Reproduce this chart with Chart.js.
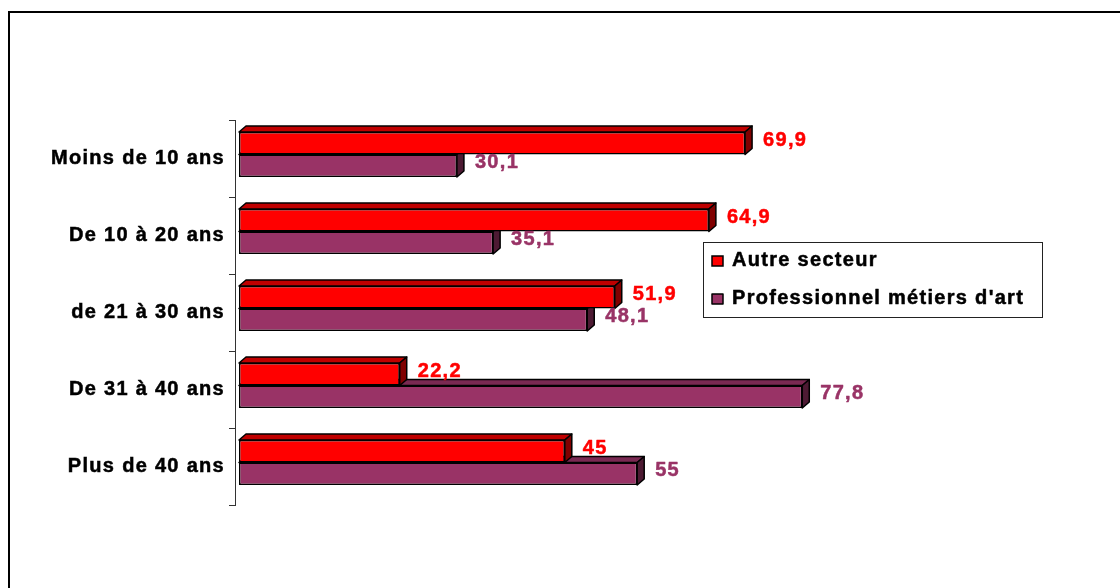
<!DOCTYPE html>
<html>
<head>
<meta charset="utf-8">
<script src="https://cdn.jsdelivr.net/npm/chart.js@4.4.1/dist/chart.umd.min.js"></script>
<style>
html, body { margin: 0; padding: 0; background: #fff; }
#wrap { width: 1120px; height: 588px; }
</style>
</head>
<body>
<div id="wrap"><canvas id="ancienneteChart" width="1120" height="588"></canvas></div>
<script>
// Data
const categories = ['Moins de 10 ans', 'De 10 à 20 ans', 'de 21 à 30 ans', 'De 31 à 40 ans', 'Plus de 40 ans'];
const autreSecteur = [69.9, 64.9, 51.9, 22.2, 45];
const metiersArt = [30.1, 35.1, 48.1, 77.8, 55];
const seriesNames = ['Autre secteur', "Professionnel métiers d'art"];
const axisMax = 100;

const FONT = '"Liberation Sans", Arial, sans-serif';
const FONT_SIZE = 20;
const TEXT_STROKE = 0.5;           // makes the bold look heavier, like the Excel render
const DEPTH_X = 7, DEPTH_Y = -6;   // 3D depth of bars
const SHIFT_X = 4, SHIFT_Y = -4;   // front face offset from the axis floor

const frontColors = ['#ff0000', '#993366'];
const topColors = ['#c00000', '#7a2952'];
const sideColors = ['#800000', '#4d1a33'];
const labelColors = ['#ff0000', '#993366'];

function heavyText(ctx, txt, x, y, color) {
    ctx.fillStyle = color;
    ctx.strokeStyle = color;
    ctx.lineWidth = TEXT_STROKE;
    ctx.lineJoin = 'round';
    ctx.strokeText(txt, x, y);
    ctx.fillText(txt, x, y);
}

// draws the frame, the 3D faces, the value labels and the legend box
const excelLook = {
    id: 'excelLook',
    beforeDraw(chart) {
        const ctx = chart.ctx;
        ctx.letterSpacing = '1.3px';
        ctx.save();
        ctx.strokeStyle = '#000';
        ctx.lineWidth = 2;
        ctx.beginPath();
        ctx.moveTo(9, chart.height);
        ctx.lineTo(9, 12);
        ctx.lineTo(chart.width, 12);
        ctx.stroke();
        ctx.restore();
    },
    beforeDatasetsDraw(chart) {
        chart.ctx.save();
        chart.ctx.translate(SHIFT_X, SHIFT_Y);
    },
    beforeDatasetDraw(chart, args) {
        const ctx = chart.ctx;
        const i = args.index;
        args.meta.data.forEach(bar => {
            const p = bar.getProps(['x', 'y', 'base', 'height'], true);
            const top = p.y - p.height / 2;
            const bottom = p.y + p.height / 2;
            ctx.lineWidth = 1.5;
            ctx.strokeStyle = '#000';
            ctx.lineJoin = 'round';
            // top face
            ctx.beginPath();
            ctx.moveTo(p.base, top);
            ctx.lineTo(p.base + DEPTH_X, top + DEPTH_Y);
            ctx.lineTo(p.x + DEPTH_X, top + DEPTH_Y);
            ctx.lineTo(p.x, top);
            ctx.closePath();
            ctx.fillStyle = topColors[i];
            ctx.fill();
            ctx.stroke();
            // right face
            ctx.beginPath();
            ctx.moveTo(p.x, top);
            ctx.lineTo(p.x + DEPTH_X, top + DEPTH_Y);
            ctx.lineTo(p.x + DEPTH_X, bottom + DEPTH_Y);
            ctx.lineTo(p.x, bottom);
            ctx.closePath();
            ctx.fillStyle = sideColors[i];
            ctx.fill();
            ctx.stroke();
        });
    },
    afterDatasetsDraw(chart) {
        const ctx = chart.ctx;
        ctx.restore();

        // value labels
        ctx.save();
        ctx.font = 'bold ' + FONT_SIZE + 'px ' + FONT;
        ctx.textBaseline = 'middle';
        ctx.textAlign = 'left';
        chart.data.datasets.forEach((ds, di) => {
            chart.getDatasetMeta(di).data.forEach((bar, k) => {
                const txt = String(ds.data[k]).replace('.', ',');
                heavyText(ctx, txt, bar.x + SHIFT_X + DEPTH_X + 11, bar.y + SHIFT_Y - 3, labelColors[di]);
            });
        });
        ctx.restore();

        // legend box
        ctx.save();
        ctx.fillStyle = '#fff';
        ctx.fillRect(703, 242, 339, 75);
        ctx.strokeStyle = '#222';
        ctx.lineWidth = 1;
        ctx.strokeRect(703.5, 242.5, 339, 75);
        ctx.font = 'bold ' + FONT_SIZE + 'px ' + FONT;
        ctx.textBaseline = 'alphabetic';
        const rows = [266, 304];
        chart.data.datasets.forEach((ds, di) => {
            const base = rows[di];
            ctx.fillStyle = frontColors[di];
            ctx.fillRect(712, base - 10, 11, 10);
            ctx.strokeStyle = '#000';
            ctx.lineWidth = 1.5;
            ctx.strokeRect(712, base - 10, 11, 10);
            heavyText(ctx, ds.label, 732, base, '#000');
        });
        ctx.restore();
    }
};

const ctx = document.getElementById('ancienneteChart').getContext('2d');

new Chart(ctx, {
    type: 'bar',
    data: {
        labels: categories,
        datasets: [{
            label: seriesNames[0],
            data: autreSecteur,
            backgroundColor: frontColors[0],
            borderColor: '#000',
            borderWidth: 1.5,
            borderSkipped: false,
            clip: false
        }, {
            label: seriesNames[1],
            data: metiersArt,
            backgroundColor: frontColors[1],
            borderColor: '#000',
            borderWidth: 1.5,
            borderSkipped: false,
            clip: false
        }]
    },
    options: {
        indexAxis: 'y',
        responsive: false,
        animation: false,
        devicePixelRatio: 1,
        categoryPercentage: 0.585,
        barPercentage: 1,
        layout: {
            padding: { left: 0, top: 120, right: 161, bottom: 83 }
        },
        scales: {
            x: {
                display: false,
                min: 0,
                max: axisMax
            },
            y: {
                afterFit(scale) {
                    scale.width = 235;
                },
                grid: {
                    offset: true,
                    drawOnChartArea: false,
                    tickLength: 6,
                    color: '#333',
                    lineWidth: 1
                },
                border: {
                    display: true,
                    color: '#333',
                    width: 1
                },
                ticks: {
                    color: '#000',
                    padding: 4,
                    textStrokeColor: '#000',
                    textStrokeWidth: TEXT_STROKE,
                    font: { family: FONT, size: FONT_SIZE, weight: 'bold' }
                }
            }
        },
        plugins: {
            legend: { display: false },
            tooltip: { enabled: false }
        }
    },
    plugins: [excelLook]
});
</script>
</body>
</html>
